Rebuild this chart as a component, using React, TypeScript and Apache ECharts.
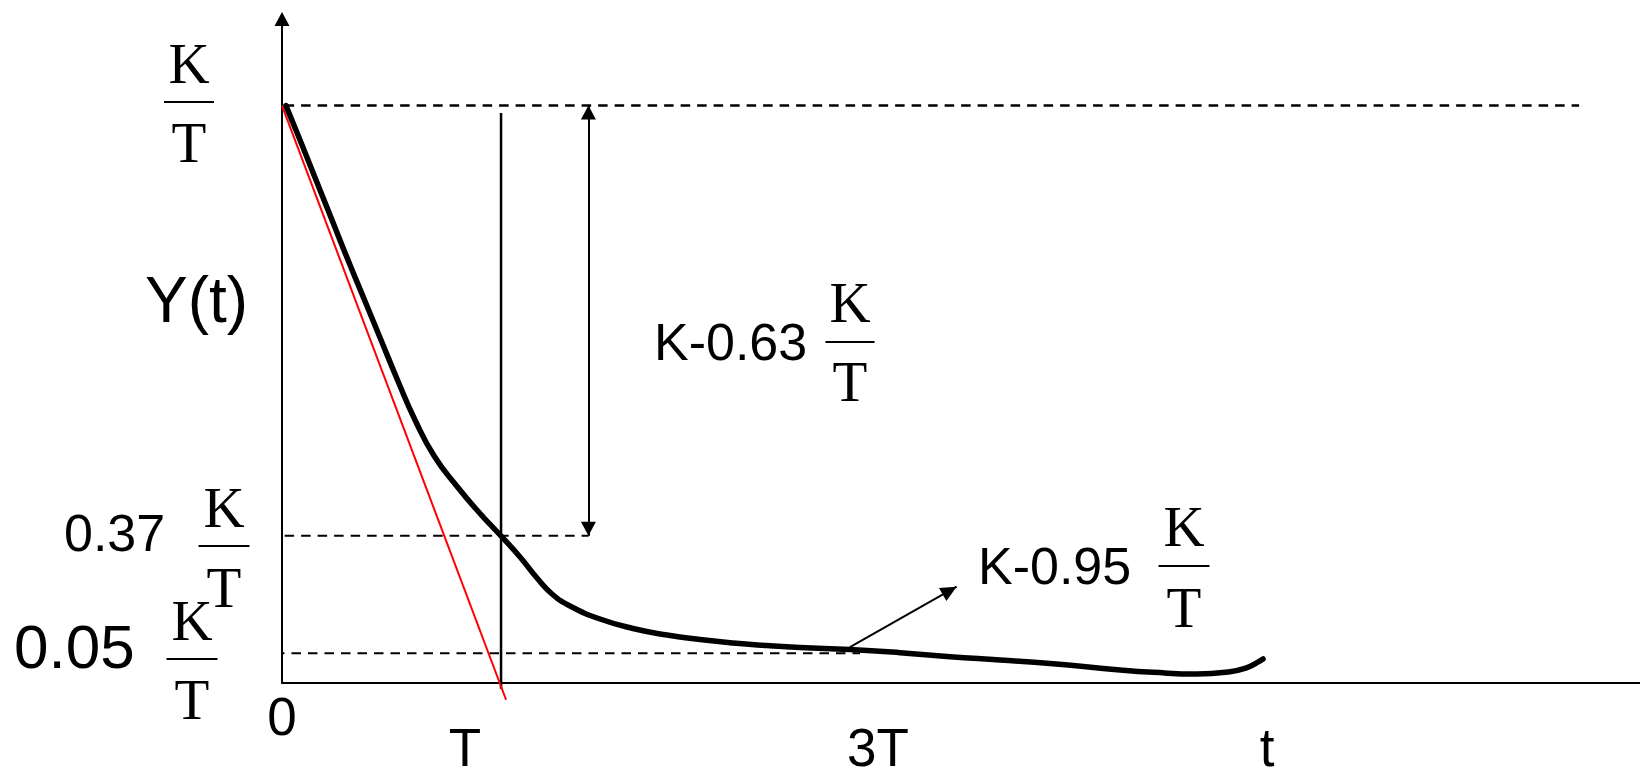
import React, { useEffect, useRef } from "react";
import * as echarts from "echarts";

// ---- data (x in units of T, y in units of K/T) ----
const curveT = [0.018, 0.0822, 0.1552, 0.2283, 0.3013, 0.3767, 0.452, 0.5273, 0.6073, 0.6962, 0.8013, 0.904, 0.9976, 1.0866, 1.1642, 1.2327, 1.3149, 1.4519, 1.6025, 1.7578, 1.9084, 2.0591, 2.2143, 2.365, 2.5932, 2.8215, 3.0498, 3.2781, 3.5064, 3.826, 3.9767, 4.1775, 4.3282, 4.4058, 4.4515, 4.4789];
const curveY = [1.0, 0.9404, 0.8712, 0.8019, 0.7326, 0.6634, 0.5941, 0.5248, 0.4555, 0.3922, 0.3395, 0.2936, 0.2555, 0.2182, 0.1818, 0.1541, 0.1334, 0.1108, 0.0944, 0.0831, 0.0753, 0.0693, 0.0649, 0.0615, 0.058, 0.0525, 0.0455, 0.0398, 0.0338, 0.0225, 0.0185, 0.0156, 0.0196, 0.0265, 0.0352, 0.0416];

const tangentT = [0, 1.023];
const tangentY = [1.0, -0.029];

const levelTop = 1.0;
const level37 = 0.2552;
const level05 = 0.0514;
const topLineT = [0.012, 5.922];
const line37T = [0.012, 1.4];
const line05T = [-0.032, 2.639];
const markTT = 1.0;
const markTY = [0.987, -0.01];
const spanArrowT = 1.399;
const pointerFrom = [2.593, 0.062];
const pointerTo = [3.08, 0.1668];

const xMax = 6.2;
const yMax = 1.15;

const xTickLabels = ["0", "T", "3T", "t"];
const yName = "Y(t)";
const levelLabels = ["0.37", "0.05"];
const noteLabels = ["K-0.63", "K-0.95"];

const SANS = "'Liberation Sans', Arial, sans-serif";
const SERIF = "'Liberation Serif', 'Times New Roman', serif";

function txt(text: string, x: number, y: number, size: number, family: string, align = "left") {
  return {
    type: "text",
    x,
    y,
    silent: true,
    style: {
      text,
      fontSize: size,
      fontFamily: family,
      fill: "#000",
      align,
      verticalAlign: "middle",
    },
  };
}

function frac(cx: number, kY: number, barY: number, tY: number, half: number) {
  return [
    txt("K", cx, kY, 57, SERIF, "center"),
    {
      type: "line",
      silent: true,
      shape: { x1: cx - half, y1: barY, x2: cx + half, y2: barY },
      style: { stroke: "#000", lineWidth: 2 },
    },
    txt("T", cx, tY, 57, SERIF, "center"),
  ];
}

function pair(xs: number[], ys: number[]) {
  return xs.map((x, i) => [x, ys[i]]);
}

export default function App() {
  const ref = useRef<HTMLDivElement>(null);
  useEffect(() => {
    if (!ref.current) return;
    const chart = echarts.init(ref.current, undefined, { renderer: "svg" });
    const dashed = { color: "#000", width: 2, type: [9.5, 7] as any };
    const option: any = {
      animation: false,
      backgroundColor: "#fff",
      grid: { left: 282, right: 0, top: 19, bottom: 93 },
      xAxis: {
        type: "value",
        min: 0,
        max: xMax,
        axisLine: { show: true, lineStyle: { color: "#000", width: 2 } },
        axisTick: { show: false },
        axisLabel: { show: false },
        splitLine: { show: false },
      },
      yAxis: {
        type: "value",
        min: 0,
        max: yMax,
        axisLine: {
          show: true,
          symbol: ["none", "triangle"],
          symbolSize: [15, 14],
          lineStyle: { color: "#000", width: 2 },
        },
        axisTick: { show: false },
        axisLabel: { show: false },
        splitLine: { show: false },
      },
      series: [
        {
          type: "line",
          clip: false,
          silent: true,
          showSymbol: false,
          symbol: "none",
          data: [
            [topLineT[0], levelTop],
            [topLineT[1], levelTop],
          ],
          lineStyle: { ...dashed, width: 2.5 },
        },
        {
          type: "line",
          clip: false,
          silent: true,
          symbol: "none",
          data: [
            [line37T[0], level37],
            [line37T[1], level37],
          ],
          lineStyle: dashed,
          markLine: {
            silent: true,
            animation: false,
            label: { show: false },
            emphasis: { disabled: true },
            lineStyle: { color: "#000", width: 2, type: "solid" },
            data: [
              [
                { coord: [spanArrowT, levelTop], symbol: "triangle", symbolSize: [15, 14], symbolOffset: [0, 7] },
                { coord: [spanArrowT, level37], symbol: "triangle", symbolSize: [15, 14], symbolOffset: [0, 7] },
              ],
              [
                { coord: pointerFrom, symbol: "none" },
                { coord: pointerTo, symbol: "triangle", symbolSize: [15, 16], symbolOffset: [0, 8] },
              ],
            ],
          },
        },
        {
          type: "line",
          clip: false,
          silent: true,
          symbol: "none",
          data: [
            [line05T[0], level05],
            [line05T[1], level05],
          ],
          lineStyle: dashed,
        },
        {
          type: "line",
          clip: false,
          silent: true,
          symbol: "none",
          data: [
            [markTT, markTY[0]],
            [markTT, markTY[1]],
          ],
          lineStyle: { color: "#000", width: 2.5 },
        },
        {
          type: "line",
          clip: false,
          silent: true,
          symbol: "none",
          data: pair(tangentT, tangentY),
          lineStyle: { color: "#ff0000", width: 2 },
        },
        {
          type: "line",
          clip: false,
          silent: true,
          symbol: "none",
          smooth: 0.5,
          data: pair(curveT, curveY),
          lineStyle: { color: "#000", width: 5.5, cap: "round", join: "round" },
          z: 5,
        },
      ],
      graphic: [
        ...frac(189, 63, 102, 142.5, 25),
        txt(yName, 145, 300, 64, SANS, "left"),
        txt(levelLabels[0], 64, 533, 52, SANS, "left"),
        ...frac(224, 507, 546, 587, 25.5),
        txt(levelLabels[1], 14, 646, 62, SANS, "left"),
        ...frac(192, 620, 659, 699, 25.5),
        txt(xTickLabels[0], 282, 716, 53, SANS, "center"),
        txt(xTickLabels[1], 465, 747, 53, SANS, "center"),
        txt(xTickLabels[2], 878, 747, 53, SANS, "center"),
        txt(xTickLabels[3], 1267, 747, 53, SANS, "center"),
        txt(noteLabels[0], 654, 342, 52, SANS, "left"),
        ...frac(850, 302, 342, 381.5, 24.5),
        txt(noteLabels[1], 978, 566, 52, SANS, "left"),
        ...frac(1184, 526, 566, 607, 25.5),
      ],
    };
    chart.setOption(option);
    return () => chart.dispose();
  }, []);
  return (
    <div
      ref={ref}
      style={{ position: "fixed", left: 0, top: 0, width: 1640, height: 776, background: "#fff" }}
    />
  );
}
